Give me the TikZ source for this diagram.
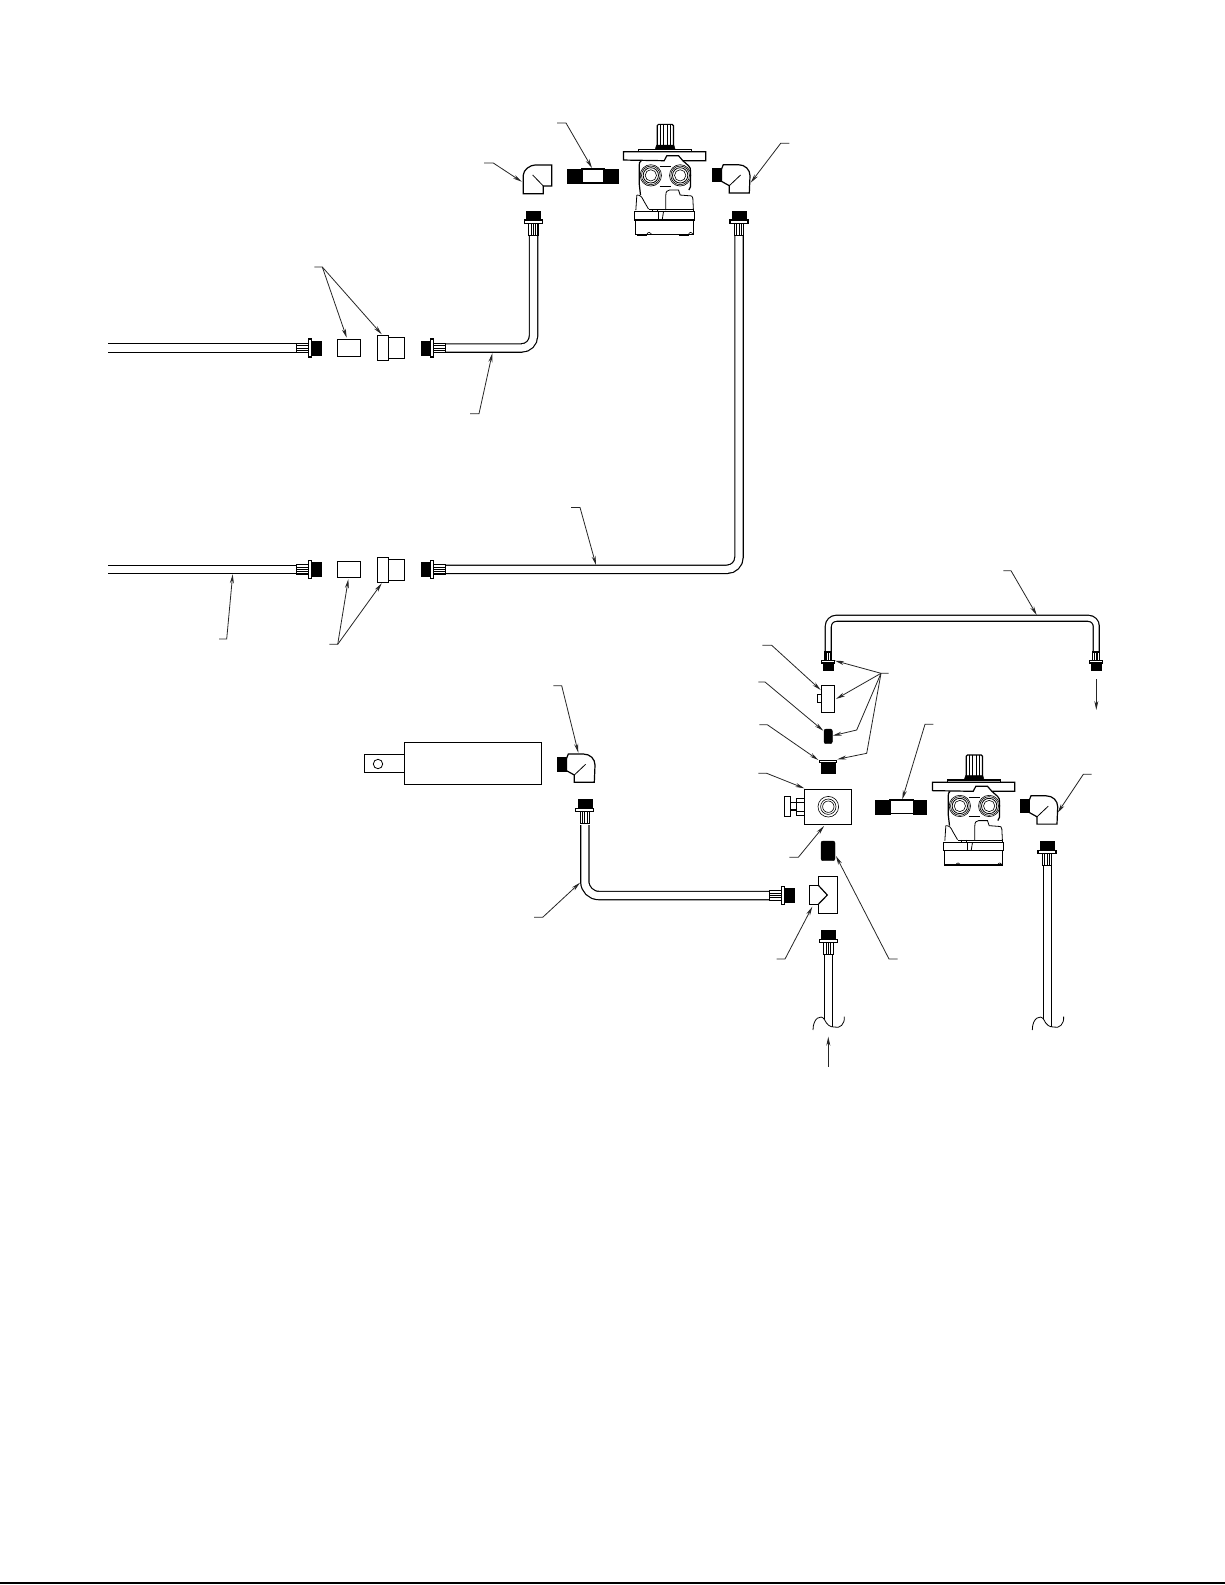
\documentclass[tikz,border=0pt]{standalone}
\usepackage{tikz}
\usetikzlibrary{arrows.meta}
\tikzset{
	partline/.style={line width=.6pt, fill=white},
	blackpart/.style={fill=black, draw=black, line width=.2pt},
	thinline/.style={line width=.4pt},
	hairline/.style={line width=.3pt},
	tubeline/.style={line width=.6pt, double=white, double distance=3.55pt, rounded corners=6pt},
	leaderline/.style={line width=.4pt, black!85, -{Stealth[length=4.5pt,width=2pt]}},
	pics/fitting/.style={code={
		\filldraw[blackpart] (-7,0) rectangle (7,9.3);
		\filldraw[partline] (-9,9.3) rectangle (9,12.5);
		\filldraw[partline] (-4.7,12.5) rectangle (4.7,24.5);
		\foreach \rib in {-2.3,0,2.3} \draw[thinline] (\rib,12.5) -- (\rib,24.5);
	}},
	pics/elbowblack/.style={code={
		\filldraw[blackpart] (0,-6.7) rectangle (9.3,6.7);
		\filldraw[partline] (9.3,6.7) -- (9.3,-5.7) -- (11,-10) -- (26,-10)
			.. controls (33,-10) and (37.7,-5) .. (37.7,1) -- (37,18.3) -- (17,18.3) -- (17,11) -- cycle;
		\draw[thinline] (17,11) -- (28.3,.3);
	}},
	pics/wavebreak/.style={code={
		\draw[thinline] (0,12) .. controls (0,0) and (8,-4) .. (11.3,1.3)
			.. controls (14,7) and (17,9) .. (21,9) .. controls (27,11) and (32,6) .. (31.3,-1.3);
	}},
	pics/motorunit/.style={code={
		\begin{scope}[scale=1/3]
			% shaft
			\draw[partline] (-22,-12) -- (-22,-78) -- (-18,-82) -- (23,-82) -- (27,-78) -- (27,-12);
			\foreach \rib in {-13,-4,9,18} \draw[thinline] (\rib,-82) -- (\rib,-14);
			\filldraw[blackpart] (-24,-20) -- (28,-20) -- (32,-7) -- (-28,-7) -- cycle;
			\draw[partline] (-78,-7) rectangle (82,0);
			% flange
			\draw[partline] (-123,0) -- (124,0) -- (124,27) -- (55,27) -- (42,12) -- (7,12) -- (-1,27) -- (-123,25) -- cycle;
			% body
			\draw[partline] (-70,27) .. controls (-75,30) and (-76,35) .. (-76,42) -- (-76,95) -- (-72,130);
			\draw[partline] (55,27) -- (72,42) .. controls (78,47) and (78,52) .. (78,58) -- (78,105) -- (73,115);
			\draw[thinline] (-15,45) -- (20,45);
			\draw[thinline] (-15,103) -- (20,103);
			\foreach \px in {-41,47} {
				\draw[hairline] (\px,71) circle [radius=32];
				\draw[hairline] (\px,71) circle [radius=28];
				\draw[thinline] (\px,71) circle [radius=23];
				\draw[hairline] (\px,71) circle [radius=17];
			}
			% lower housing
			\draw[thinline] (-83,130) -- (-86,175);
			\draw[thinline] (-83,130) .. controls (-72,130) and (-68,135) .. (-62,148) -- (-48,172);
			\draw[thinline] (4,175) -- (4,130) .. controls (4,120) and (8,115) .. (15,115) -- (42,115) -- (47,130) -- (72,132)
				.. controls (82,132) and (85,134) .. (85,140) -- (87,180);
			\draw[thinline] (-48,173) -- (87,173);
			\draw[hairline] (-38,173) -- (-38,180);
			\draw[hairline] (-23,173) -- (-23,180);
			\draw[partline] (-90,180) rectangle (90,205);
			\draw[thinline] (-19,180) -- (-19,205);
			\draw[thinline] (-3,180) -- (-7,205);
			\draw[partline,fill=none] (-86,205) -- (-86,248) -- (87,248) -- (87,205);
			% feet
			\foreach \fx in {-83,42} {
				\draw[line width=.8pt] (\fx,249) -- (\fx+30,249);
				\draw[hairline] (\fx+30,248) .. controls (\fx+33,240) and (\fx+41,240) .. (\fx+44,247);
			}
		\end{scope}
	}}
}
\begin{document}
\begin{tikzpicture}[x=.5pt,y=-.5pt]
	\useasboundingbox (0,0) rectangle (1225,1585);
	% page rule
	\coordinate (R1) at (0,1583);
	\coordinate (R2) at (1225,1583);
	\draw[line width=1pt] (R1) -- (R2);
	% tubes
	\coordinate (A1) at (108,348);
	\coordinate (A2) at (300,348);
	\coordinate (B1) at (440,348);
	\coordinate (B2) at (533.5,348);
	\coordinate (B3) at (533.5,230);
	\coordinate (C1) at (108,569.3);
	\coordinate (C2) at (300,569.3);
	\coordinate (D1) at (440,569.3);
	\coordinate (D2) at (739,569.3);
	\coordinate (D3) at (739,230);
	\coordinate (E1) at (770,895.5);
	\coordinate (E2) at (584.8,895.5);
	\coordinate (E3) at (584.8,825);
	\coordinate (F1) at (828.3,655);
	\coordinate (F2) at (828.3,618.3);
	\coordinate (F3) at (1096.3,618.3);
	\coordinate (F4) at (1096.3,655);
	\coordinate (G1) at (824.3,950);
	\coordinate (G2) at (824.3,1019.3);
	\coordinate (G3) at (832.7,950);
	\coordinate (G4) at (832.7,1026.7);
	\coordinate (H1) at (1043.3,865);
	\coordinate (H2) at (1043.3,1019.3);
	\coordinate (H3) at (1051.7,865);
	\coordinate (H4) at (1051.7,1026.7);
	\draw[tubeline] (A1) -- (A2);
	\draw[tubeline] (B1) -- (B2) -- (B3);
	\draw[tubeline] (C1) -- (C2);
	\draw[tubeline] (D1) -- (D2) -- (D3);
	\draw[tubeline,rounded corners=7pt] (E1) -- (E2) -- (E3);
	\draw[tubeline,double distance=2.4pt,rounded corners=4pt] (F1) -- (F2) -- (F3) -- (F4);
	\draw[partline] (G1) -- (G2);
	\draw[partline] (G3) -- (G4);
	\draw[partline] (H1) -- (H2);
	\draw[partline] (H3) -- (H4);
	% fittings
	\pic at (533.3,210.7) {fitting};
	\pic at (739,210.7) {fitting};
	\pic at (584.8,799.3) {fitting};
	\pic at (828.5,930) {fitting};
	\pic at (1047,841) {fitting};
	\pic[rotate=-90] at (321,348) {fitting};
	\pic[rotate=90] at (421,348) {fitting};
	\pic[rotate=-90] at (321,569.3) {fitting};
	\pic[rotate=90] at (421,569.3) {fitting};
	\pic[rotate=-90] at (793.7,895.5) {fitting};
	\pic[rotate=180,scale=.72] at (828.3,669.7) {fitting};
	\pic[rotate=180,scale=.72] at (1096.2,669.7) {fitting};
	% upper elbows, nipple and motor
	\filldraw[partline] (523.3,193.7) -- (523.3,175) .. controls (523.3,170) and (530,165) .. (535,165) -- (551.7,165) -- (551.7,186) -- (543.3,186) -- (543.3,193.7) -- cycle;
	\draw[thinline] (532.7,175) -- (543.3,186);
	\filldraw[partline] (582,169) rectangle (604,183);
	\filldraw[blackpart] (567,169) rectangle (582,183);
	\filldraw[blackpart] (604,169) rectangle (618,183);
	\pic at (664.5,151.7) {motorunit};
	\pic at (712.3,174.7) {elbowblack};
	% couplers
	\draw[partline] (337.3,339.3) rectangle (360.3,356.3);
	\draw[partline] (388.3,337.3) rectangle (404.3,358.7);
	\draw[partline] (377.3,335.3) rectangle (388.3,360.3);
	\draw[partline] (337.3,561.3) rectangle (360.3,577.3);
	\draw[partline] (388.3,559.3) rectangle (404.3,580.3);
	\draw[partline] (377.3,557.3) rectangle (388.3,582.3);
	% cylinder
	\draw[partline] (364.3,754.3) rectangle (404.3,772.3);
	\draw[thinline] (378,764) circle [radius=4.7];
	\draw[partline] (404.3,742.3) rectangle (541.7,784.3);
	\pic at (557.3,764) {elbowblack};
	% valve stack
	\draw[partline] (821.3,685.3) rectangle (834.7,712.3);
	\draw[partline] (817.3,694.3) rectangle (821.3,702.7);
	\filldraw[blackpart,rounded corners=1pt] (824,729) rectangle (832.3,743.7);
	\draw[partline] (819.3,760.3) rectangle (836.7,762.7);
	\filldraw[blackpart] (821,762.7) rectangle (835,772.7);
	\draw[partline] (804.3,789.3) rectangle (851.3,824.3);
	\foreach \r in {10.3,7.7,5.7} \draw[hairline] (828.3,806.7) circle [radius=\r];
	\draw[partline] (784.3,796.3) rectangle (790.7,816.3);
	\draw[partline] (790.7,802.7) rectangle (796.7,810);
	\draw[partline] (796.7,798.3) rectangle (804.3,815.7);
	\draw[thinline] (796.7,802.7) -- (804.3,802.7);
	\draw[thinline] (796.7,811) -- (804.3,811);
	\filldraw[blackpart,rounded corners=1pt] (821,841) rectangle (835,860.7);
	% tee
	\draw[partline] (818.3,876.3) -- (837.7,876.3) -- (837.7,913.3) -- (818.3,913.3) -- (818.3,904.3) -- (809.3,904.3) -- (809.3,885.3) -- (818.3,885.3) -- cycle;
	\draw[partline,fill=none] (818.3,885.3) -- (827.3,895) -- (818.3,904.3);
	% lower nipple, motor and elbow
	\filldraw[partline] (890,800) rectangle (913.3,813.7);
	\filldraw[blackpart] (875,800) rectangle (890,813.7);
	\filldraw[blackpart] (913.3,800) rectangle (926,813.7);
	\pic at (973.5,782.3) {motorunit};
	\pic at (1020,805.8) {elbowblack};
	% tube breaks
	\pic at (813,1018) {wavebreak};
	\pic at (1032.3,1018) {wavebreak};
	% leaders
	\coordinate (L1a) at (557,123);
	\coordinate (L1b) at (566,123);
	\coordinate (L1c) at (592,168);
	\draw[leaderline] (L1a) -- (L1b) -- (L1c);
	\coordinate (L2a) at (484,163);
	\coordinate (L2b) at (493.3,163);
	\coordinate (L2c) at (521.7,181.7);
	\draw[leaderline] (L2a) -- (L2b) -- (L2c);
	\coordinate (L3a) at (789.3,143.3);
	\coordinate (L3b) at (780.7,143.3);
	\coordinate (L3c) at (750.7,182.7);
	\draw[leaderline] (L3a) -- (L3b) -- (L3c);
	\coordinate (L4a) at (314.3,267);
	\coordinate (L4b) at (322.3,267);
	\coordinate (L4c) at (346.7,337.7);
	\coordinate (L4d) at (381.7,334.3);
	\draw[leaderline] (L4a) -- (L4b) -- (L4c);
	\draw[leaderline] (L4b) -- (L4d);
	\coordinate (L5a) at (470,413.7);
	\coordinate (L5b) at (479,413.7);
	\coordinate (L5c) at (492.3,353.3);
	\draw[leaderline] (L5a) -- (L5b) -- (L5c);
	\coordinate (L6a) at (571,507.4);
	\coordinate (L6b) at (580,507.4);
	\coordinate (L6c) at (596,565);
	\draw[leaderline] (L6a) -- (L6b) -- (L6c);
	\coordinate (L7a) at (219,639);
	\coordinate (L7b) at (226.7,639);
	\coordinate (L7c) at (232.7,574.3);
	\draw[leaderline] (L7a) -- (L7b) -- (L7c);
	\coordinate (L8a) at (329.3,644.3);
	\coordinate (L8b) at (337.7,644.3);
	\coordinate (L8c) at (348.3,579.3);
	\coordinate (L8d) at (381.7,583.3);
	\draw[leaderline] (L8a) -- (L8b) -- (L8c);
	\draw[leaderline] (L8b) -- (L8d);
	\coordinate (L9a) at (1003.3,570.7);
	\coordinate (L9b) at (1011,570.7);
	\coordinate (L9c) at (1036.7,615);
	\draw[leaderline] (L9a) -- (L9b) -- (L9c);
	\coordinate (L10a) at (1096.3,679.3);
	\coordinate (L10b) at (1096.3,710);
	\draw[leaderline] (L10a) -- (L10b);
	\coordinate (L11a) at (888.7,673.3);
	\coordinate (L11b) at (881,673.3);
	\coordinate (L11c) at (835,660.7);
	\coordinate (L11d) at (836,699);
	\coordinate (L11e) at (856.7,730);
	\coordinate (L11f) at (832.7,735.7);
	\coordinate (L11g) at (866.7,753.3);
	\coordinate (L11h) at (837.3,759.3);
	\draw[leaderline] (L11a) -- (L11b) -- (L11c);
	\draw[leaderline] (L11b) -- (L11d);
	\draw[leaderline] (L11b) -- (L11e) -- (L11f);
	\draw[leaderline] (L11b) -- (L11g) -- (L11h);
	\coordinate (L12a) at (762.3,645.3);
	\coordinate (L12b) at (771.7,645.3);
	\coordinate (L12c) at (820.7,690);
	\draw[leaderline] (L12a) -- (L12b) -- (L12c);
	\coordinate (L13a) at (758.3,682);
	\coordinate (L13b) at (765,682);
	\coordinate (L13c) at (823.3,730.7);
	\draw[leaderline] (L13a) -- (L13b) -- (L13c);
	\coordinate (L14a) at (759.3,724.7);
	\coordinate (L14b) at (767.3,724.7);
	\coordinate (L14c) at (818.3,760);
	\draw[leaderline] (L14a) -- (L14b) -- (L14c);
	\coordinate (L15a) at (758.3,773.3);
	\coordinate (L15b) at (766.7,773.3);
	\coordinate (L15c) at (804.3,788.3);
	\draw[leaderline] (L15a) -- (L15b) -- (L15c);
	\coordinate (L16a) at (789.3,857.3);
	\coordinate (L16b) at (798.3,857.3);
	\coordinate (L16c) at (824,826);
	\draw[leaderline] (L16a) -- (L16b) -- (L16c);
	\coordinate (L17a) at (897.7,959);
	\coordinate (L17b) at (889,959);
	\coordinate (L17c) at (836,856);
	\draw[leaderline] (L17a) -- (L17b) -- (L17c);
	\coordinate (L18a) at (776.7,959);
	\coordinate (L18b) at (785,959);
	\coordinate (L18c) at (812.3,906.7);
	\draw[leaderline] (L18a) -- (L18b) -- (L18c);
	\coordinate (L19a) at (828.3,1066.7);
	\coordinate (L19b) at (828.3,1036.7);
	\draw[leaderline] (L19a) -- (L19b);
	\coordinate (L20a) at (553.3,685.7);
	\coordinate (L20b) at (561.7,685.7);
	\coordinate (L20c) at (578.3,752.7);
	\draw[leaderline] (L20a) -- (L20b) -- (L20c);
	\coordinate (L21a) at (534,917.3);
	\coordinate (L21b) at (542.7,917.3);
	\coordinate (L21c) at (580,882.7);
	\draw[leaderline] (L21a) -- (L21b) -- (L21c);
	\coordinate (L22a) at (933.3,724.3);
	\coordinate (L22b) at (925,724.3);
	\coordinate (L22c) at (902.3,799.3);
	\draw[leaderline] (L22a) -- (L22b) -- (L22c);
	\coordinate (L23a) at (1091.7,774.3);
	\coordinate (L23b) at (1083.3,774.3);
	\coordinate (L23c) at (1057.7,812.7);
	\draw[leaderline] (L23a) -- (L23b) -- (L23c);
\end{tikzpicture}
\end{document}
